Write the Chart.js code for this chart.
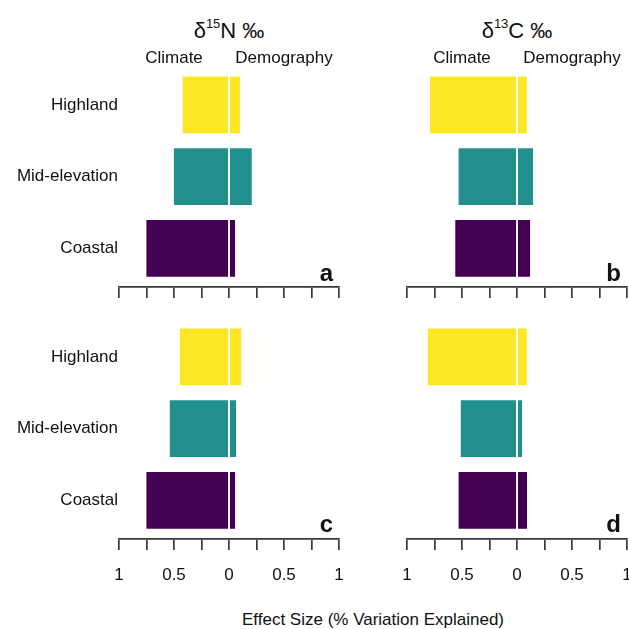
<!DOCTYPE html>
<html><head><meta charset="utf-8">
<script src="https://cdn.jsdelivr.net/npm/chart.js@4.4.1/dist/chart.umd.min.js"></script>
<style>
html,body{margin:0;padding:0;background:#fff;width:629px;height:629px;overflow:hidden;position:relative;font-family:"Liberation Sans",Arial,sans-serif;color:#111}
canvas{position:absolute}
.t{position:absolute;white-space:nowrap}
</style></head><body>
<script>
// ---- data ----
const categories = ['Highland', 'Mid-elevation', 'Coastal'];
const colors = ['#FDE725', '#21908C', '#440154'];
const tickLabels = ['1', '0.5', '0', '0.5', '1'];
// panel a: d15N, model 1
const climateA = [0.43, 0.51, 0.76];
const demographyA = [0.108, 0.216, 0.064];
// panel b: d13C, model 1
const climateB = [0.80, 0.54, 0.57];
const demographyB = [0.098, 0.155, 0.128];
// panel c: d15N, model 2
const climateC = [0.456, 0.547, 0.76];
const demographyC = [0.12, 0.073, 0.064];
// panel d: d13C, model 2
const climateD = [0.82, 0.52, 0.54];
const demographyD = [0.098, 0.055, 0.10];

const FONT = '"Liberation Sans", Arial, sans-serif';
const panels = [
  {id:'a', left:true,  top:true,  x0:119, x1:339, y0:69,  y1:287, climate:climateA, demo:demographyA, title:'δ<span style="font-size:13px;position:relative;top:-10px">15</span>N ‰'},
  {id:'b', left:false, top:true,  x0:407, x1:627, y0:69,  y1:287, climate:climateB, demo:demographyB, title:'δ<span style="font-size:13px;position:relative;top:-10px">13</span>C ‰'},
  {id:'c', left:true,  top:false, x0:119, x1:339, y0:321, y1:539, climate:climateC, demo:demographyC},
  {id:'d', left:false, top:false, x0:407, x1:627, y0:321, y1:539, climate:climateD, demo:demographyD}
];

function text(html, x, baseline, size, opts) {
  opts = opts || {};
  const d = document.createElement('div');
  d.className = 't';
  d.innerHTML = html;
  d.style.fontSize = size + 'px';
  d.style.lineHeight = size + 'px';
  if (opts.bold) d.style.fontWeight = 'bold';
  d.style.top = (baseline - 0.8465 * size) + 'px';
  if (opts.align === 'right') {
    d.style.left = (x - 200) + 'px'; d.style.width = '200px'; d.style.textAlign = 'right';
  } else {
    d.style.left = (x - 200) + 'px'; d.style.width = '400px'; d.style.textAlign = 'center';
  }
  document.body.appendChild(d);
}

function noPad(s) { s.paddingLeft = 0; s.paddingRight = 0; s.paddingTop = 0; s.paddingBottom = 0; }

panels.forEach(p => {
  const padTop = 8, padRight = 15, padBottom = 2, gap = 2.7;
  const axisH = p.top ? 30 : 60;
  const canvasLeft = p.left ? 0 : p.x0 - 15;
  const padLeft = p.left ? 0 : 15;
  const yW = p.x0 - canvasLeft - padLeft;
  const W = (p.x1 - canvasLeft) + padRight;
  const H = padTop + (p.y1 - p.y0) + axisH + padBottom;
  const cv = document.createElement('canvas');
  cv.width = W; cv.height = H;
  cv.style.left = canvasLeft + 'px';
  cv.style.top = (p.y0 - padTop) + 'px';
  cv.style.width = W + 'px'; cv.style.height = H + 'px';
  document.body.appendChild(cv);

  const ds = (label, data, bw) => ({label, data, xAxisID: 'x', yAxisID: 'y',
    backgroundColor: colors, borderColor: 'rgba(255,255,255,0.9)', borderWidth: bw,
    borderSkipped: false, barPercentage: 0.82, categoryPercentage: 1});

  new Chart(cv, {
    type: 'bar',
    data: {
      labels: categories,
      datasets: [
        ds('Climate', p.climate.map(v => -v), {top: 1, bottom: 1, left: 1, right: 0}),
        ds('Demography', p.demo, {top: 1, bottom: 1, left: 0, right: 1})
      ]
    },
    options: {
      indexAxis: 'y',
      responsive: false,
      animation: false,
      devicePixelRatio: 1,
      layout: {padding: {top: padTop, right: padRight, bottom: padBottom, left: padLeft}},
      plugins: {legend: {display: false}, tooltip: {enabled: false}},
      scales: {
        x: {
          type: 'linear', axis: 'x', position: 'bottom', weight: 1,
          min: -1, max: 1, stacked: true,
          afterFit: s => { s.height = axisH; noPad(s); },
          ticks: {
            stepSize: 0.25, autoSkip: false, maxRotation: 0, padding: 15,
            color: '#111', font: {family: FONT, size: 17},
            callback: (v, i) => (p.top || i % 2) ? '' : tickLabels[i / 2]
          },
          grid: {display: true, drawOnChartArea: false, drawTicks: true, tickLength: 11, color: '#3a3a3a', lineWidth: 1.7},
          border: {display: true, color: '#3a3a3a', width: 1.7}
        },
        gap: {
          type: 'linear', axis: 'x', position: 'bottom', weight: 0,
          afterFit: s => { s.height = gap; noPad(s); },
          ticks: {display: false},
          grid: {display: false, drawTicks: false},
          border: {display: false}
        },
        y: {
          type: 'category', stacked: true,
          display: p.left,
          afterFit: s => { s.width = yW; noPad(s); },
          ticks: {padding: 1, color: '#111', font: {family: FONT, size: 17}},
          grid: {display: false, drawTicks: false, tickLength: 0},
          border: {display: false}
        }
      }
    }
  });

  const zero = (p.x0 + p.x1) / 2;
  if (p.top) {
    text(p.title, zero, 39, 22);
    text('Climate', p.x0 + (p.x1 - p.x0) * 0.25, 63, 17);
    text('Demography', p.x0 + (p.x1 - p.x0) * 0.75, 63, 17);
  }
  text(p.id, p.x1 - 6, p.top ? 281 : 532, 24, {bold: true, align: 'right'});
});

text('Effect Size (% Variation Explained)', 373, 625, 17);
</script>
</body></html>
